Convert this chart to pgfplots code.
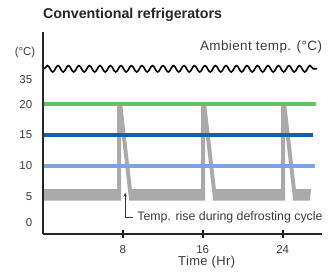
\documentclass[border=0pt]{standalone}
\usepackage{pgfplots}
\pgfplotsset{compat=1.18}
\usepackage{fontspec}
\setmainfont{Liberation Sans}
\usetikzlibrary{decorations.pathmorphing,arrows.meta}
\definecolor{cgreen}{RGB}{98,196,98}
\definecolor{cdblue}{RGB}{16,96,180}
\definecolor{clblue}{RGB}{120,165,220}
\definecolor{cgray}{RGB}{170,170,170}
\definecolor{ctext}{RGB}{60,60,60}
\newfontfamily\wide[LetterSpace=3]{Liberation Sans}
\begin{document}
\begin{tikzpicture}
\path[use as bounding box] (0,0) rectangle (329bp,278bp);
\node[anchor=base west, font=\bfseries\fontsize{14.3}{16}\selectfont, text=black!85, inner sep=0pt] at (43bp,259.5bp) {Conventional refrigerators};
\begin{axis}[
  at={(42.7bp,44bp)}, anchor=south west,
  scale only axis, width=279bp, height=202bp,
  xmin=0, xmax=27.9, ymin=-1.15, ymax=31.8,
  axis x line=bottom, axis y line=left,
  axis line style={-, line width=1.8bp, black!85},
  clip=false,
  xtick={8,16,24},
  xticklabels={8,16,24},
  ytick={0.75,5,10,15,20,24},
  yticklabels={0,5,10,15,20,35},
  /pgf/number format/assume math mode=true,
  ticklabel style={font=\fontsize{11.5}{13}\selectfont, text=ctext},
  x tick style={line width=2.2bp, black!90},
  tick align=center,
  major tick length=8bp,
  y tick style={draw=none},
  yticklabel style={xshift=-3bp},
  xticklabel style={yshift=-4bp},
]
% gray temperature band with defrosting spikes
\addplot[fill=cgray, draw=none] coordinates {
 (0.15,6.15) (7.45,6.15) (7.45,20) (7.95,20) (8.92,6.15)
 (15.85,6.15) (15.85,20) (16.35,20) (17.32,6.15)
 (23.85,6.15) (23.85,20) (24.35,20) (25.32,6.15)
 (26.85,6.15) (26.7,4.3)
 (25.05,4.3) (24.25,15.72) (24.25,4.3)
 (17.05,4.3) (16.25,15.72) (16.25,4.3)
 (8.65,4.3) (7.85,15.72) (7.85,4.3)
 (0.15,4.3)
} -- cycle;
\addplot[clblue, line width=4bp] coordinates {(0.1,10) (27.2,10)};
\addplot[cdblue, line width=4bp] coordinates {(0.1,15) (27.0,15)};
\addplot[cgreen, line width=4bp] coordinates {(0.1,20) (27.3,20)};
\addplot[black, line width=1.6bp, decorate, decoration={snake, amplitude=3.2bp, segment length=10.5bp}] coordinates {(0.15,25.8) (27.45,25.8)};
\node[anchor=east, font=\wide\fontsize{13.5}{15}\selectfont, text=ctext, inner sep=0pt] at (axis cs:27.95,29.4) {Ambient temp. (°C)};
\node[font=\fontsize{11.5}{13}\selectfont, text=ctext, inner sep=0pt] at (axis cs:-1.77,28.4) {(°C)};
\draw[line width=0.8bp, black!80, -{Stealth[length=4bp,width=3.5bp]}] (axis cs:9.05,1.55) -- (axis cs:8.25,1.55) -- (axis cs:8.25,5.6);
\node[anchor=west, font=\fontsize{12.4}{14}\selectfont, text=ctext, inner sep=0pt] at (axis cs:9.45,1.5) {Temp. rise during defrosting cycle};
\node[font=\wide\fontsize{13}{15}\selectfont, text=ctext, inner sep=0pt] at (axis cs:16.4,-5.82) {Time (Hr)};
\end{axis}
\end{tikzpicture}
\end{document}
